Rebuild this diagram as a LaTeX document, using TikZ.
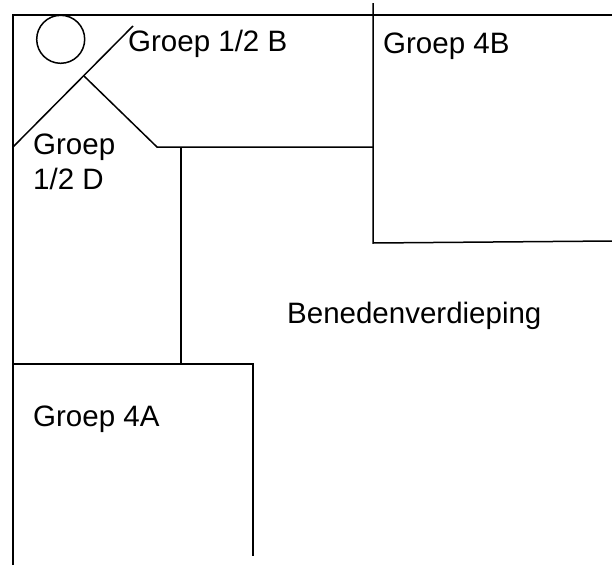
\documentclass[tikz,border=0pt]{standalone}
\usepackage{fontspec}
\setmainfont{Liberation Sans}
\tikzstyle{wall}  = [line width=1.5pt, black]
\tikzstyle{room}  = [anchor=west, inner sep=0pt, font=\fontsize{29.5}{35}\selectfont, align=left]
\begin{document}
\begin{tikzpicture}[x=1pt, y=-1pt]
        \useasboundingbox (0,0) rectangle (612,565);

        \draw [wall] (13,565) -- (13,15) -- (612,15);
        \draw [wall] (373,3) -- (373,243) -- (612,241);
        \draw [wall] (13,147) -- (133,26);
        \draw [wall] (84,76) -- (157,147) -- (373,147);
        \draw [wall] (181,147) -- (181,364);
        \draw [wall] (13,364) -- (253,364) -- (253,556);
        \draw [wall] (60.7,39.3) circle (24);

        \node [room] (GroepB)  at (128,44)  {Groep 1/2 B};
        \node [room] (GroepFB) at (383,46)  {Groep 4B};
        \node [room] (GroepD)  at (33,162)  {Groep\\1/2 D};
        \node [room] (Beneden) at (287,316) {Benedenverdieping};
        \node [room] (GroepFA) at (33,419)  {Groep 4A};
\end{tikzpicture}
\end{document}
